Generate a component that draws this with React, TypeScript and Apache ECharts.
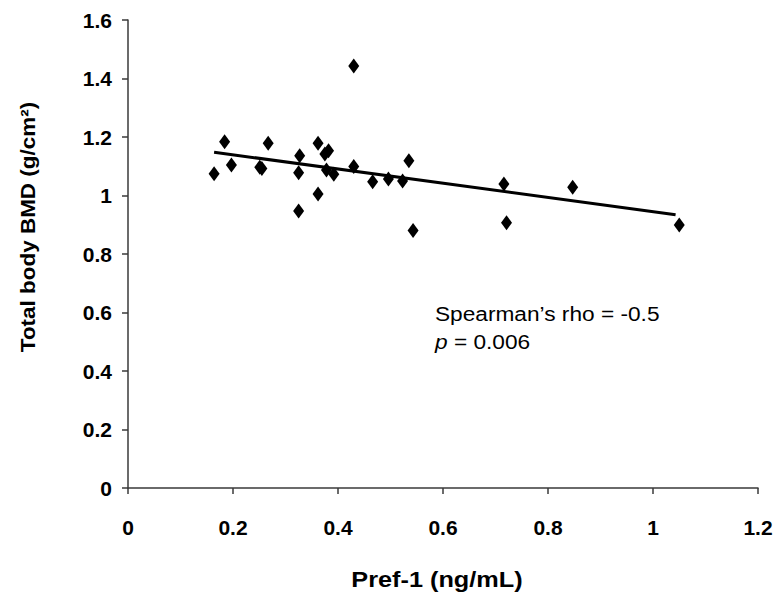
import React, { useEffect, useRef } from "react";
import * as echarts from "echarts";

// Pref-1 (ng/mL) values
const prefX = [0.164, 0.184, 0.197, 0.251, 0.255, 0.267, 0.327, 0.325, 0.325, 0.362, 0.362, 0.375, 0.382, 0.378, 0.392, 0.43, 0.43, 0.466, 0.496, 0.523, 0.535, 0.543, 0.716, 0.721, 0.847, 1.05];
// Total body BMD (g/cm2)
const bmdY = [1.074, 1.184, 1.104, 1.097, 1.092, 1.179, 1.136, 1.078, 0.947, 1.179, 1.005, 1.142, 1.153, 1.087, 1.073, 1.443, 1.099, 1.047, 1.056, 1.05, 1.119, 0.88, 1.039, 0.907, 1.028, 0.899];
// Fitted trend line end points
const trendX = [0.164, 1.043];
const trendY = [1.148, 0.934];

const xTitle = "Pref-1 (ng/mL)";
const yTitle = "Total body BMD (g/cm\u00b2)";
const statLine1 = "Spearman\u2019s rho = -0.5";
const statLine2 = "{i|p} = 0.006";

const tickFont = '"Liberation Sans Narrow", "Liberation Sans", Arial, sans-serif';
const textFont = '"Liberation Sans", Arial, Helvetica, sans-serif';

export default function App() {
  const ref = useRef<HTMLDivElement>(null);
  useEffect(() => {
    if (!ref.current) return;
    const chart = echarts.init(ref.current, null, { renderer: "svg" });
    const axisLine = { show: true, lineStyle: { color: "#3a3a3a", width: 1.5 } };
    const axisTick = { show: true, inside: false, length: 6, lineStyle: { color: "#3a3a3a", width: 1.5 } };
    const axisLabel = {
      color: "#000",
      fontFamily: tickFont,
      fontWeight: "bold" as const,
      fontSize: 21,
    };
    chart.setOption({
      animation: false,
      backgroundColor: "#fff",
      grid: { left: 128, right: 20, top: 20, bottom: 116, containLabel: false },
      xAxis: {
        type: "value",
        min: 0,
        max: 1.2,
        interval: 0.2,
        axisLine,
        axisTick,
        splitLine: { show: false },
        axisLabel: { ...axisLabel, margin: 29 },
      },
      yAxis: {
        type: "value",
        min: 0,
        max: 1.6,
        interval: 0.2,
        axisLine,
        axisTick,
        splitLine: { show: false },
        axisLabel: { ...axisLabel, margin: 16 },
      },
      series: [
        {
          type: "scatter",
          data: prefX.map((x, i) => [x, bmdY[i]]),
          symbol: "diamond",
          symbolSize: [11, 15],
          itemStyle: { color: "#000", opacity: 1 },
          z: 3,
        },
        {
          type: "line",
          data: trendX.map((x, i) => [x, trendY[i]]),
          symbol: "none",
          lineStyle: { color: "#000", width: 3 },
          z: 2,
        },
      ],
      graphic: [
        {
          type: "text",
          x: 437,
          y: 580,
          scaleX: 1.15,
          style: {
            text: xTitle,
            fill: "#000",
            fontFamily: textFont,
            fontWeight: "bold",
            fontSize: 22,
            align: "center",
            verticalAlign: "middle",
            textAlign: "center",
            textVerticalAlign: "middle",
          },
        },
        {
          type: "text",
          x: 28,
          y: 227,
          rotation: Math.PI / 2,
          scaleX: 1.07,
          style: {
            text: yTitle,
            fill: "#000",
            fontFamily: textFont,
            fontWeight: "bold",
            fontSize: 21,
            align: "center",
            verticalAlign: "middle",
            textAlign: "center",
            textVerticalAlign: "middle",
          },
        },
        {
          type: "text",
          x: 435,
          y: 314,
          scaleX: 1.08,
          style: {
            text: statLine1,
            fill: "#000",
            fontFamily: textFont,
            fontSize: 21,
            align: "left",
            verticalAlign: "middle",
            textAlign: "left",
            textVerticalAlign: "middle",
          },
        },
        {
          type: "text",
          x: 435,
          y: 342,
          scaleX: 1.08,
          style: {
            text: statLine2,
            fill: "#000",
            fontFamily: textFont,
            fontSize: 21,
            align: "left",
            verticalAlign: "middle",
            textAlign: "left",
            textVerticalAlign: "middle",
            rich: {
              i: { fontStyle: "italic", fontFamily: textFont, fontSize: 21, fill: "#000" },
            },
          },
        },
      ],
    });
    return () => chart.dispose();
  }, []);
  return (
    <div
      ref={ref}
      style={{ position: "fixed", left: 0, top: 0, width: 778, height: 604 }}
    />
  );
}
